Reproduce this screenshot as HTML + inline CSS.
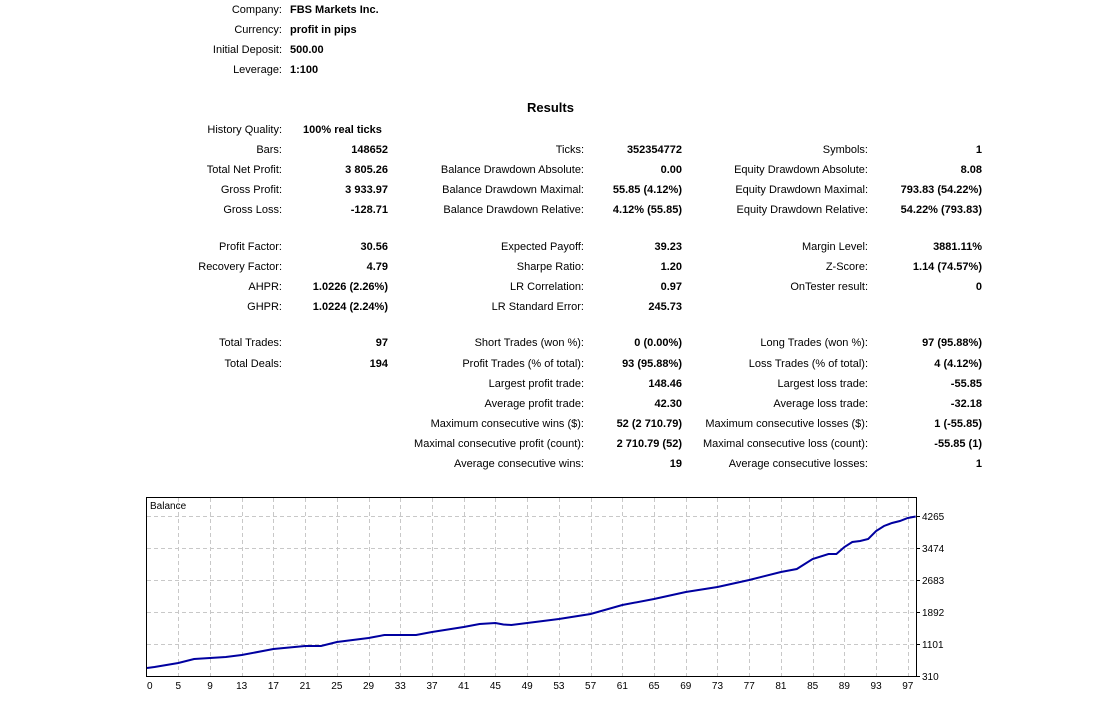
<!DOCTYPE html>
<html><head><meta charset="utf-8"><style>
body{margin:0;width:1098px;height:718px;background:#fff;position:relative;overflow:hidden;font-family:"Liberation Sans","DejaVu Sans",sans-serif;font-size:11px;color:#000}
.l,.v{position:absolute;white-space:nowrap;line-height:13px}
.v{font-weight:bold}
</style></head><body>
<div id="c"></div>
<svg style="position:absolute;left:0;top:0" width="1098" height="718">
<g stroke="#c8c8c8" stroke-dasharray="4,3" stroke-width="1">
<line x1="147" x2="916" y1="516.5" y2="516.5"/><line x1="147" x2="916" y1="548.5" y2="548.5"/><line x1="147" x2="916" y1="580.5" y2="580.5"/><line x1="147" x2="916" y1="612.5" y2="612.5"/><line x1="147" x2="916" y1="644.5" y2="644.5"/>
<g id="vg"></g>
</g>
<rect x="146.5" y="497.5" width="770" height="179" fill="none" stroke="#000"/>
<g stroke="#000"><line x1="917" x2="920" y1="516.5" y2="516.5"/><line x1="917" x2="920" y1="548.5" y2="548.5"/><line x1="917" x2="920" y1="580.5" y2="580.5"/><line x1="917" x2="920" y1="612.5" y2="612.5"/><line x1="917" x2="920" y1="644.5" y2="644.5"/><line x1="917" x2="920" y1="676.5" y2="676.5"/></g>
<g font-family="Liberation Sans, sans-serif" font-size="10" fill="#000">
<text x="150" y="509">Balance</text>
<text x="922" y="520">4265</text><text x="922" y="552">3474</text><text x="922" y="584">2683</text><text x="922" y="616">1892</text><text x="922" y="648">1101</text><text x="922" y="680">310</text>
<g id="xl"></g>
</g>
<polyline id="pl" fill="none" stroke="#0000a0" stroke-width="2" points=""/>
</svg>
<script>
var ns="http://www.w3.org/2000/svg";
function X(i){return 138.6+7.93*i;}
var vg=document.getElementById('vg'),xl=document.getElementById('xl');
for(var i=5;i<=97;i+=4){var l=document.createElementNS(ns,'line');l.setAttribute('x1',Math.round(X(i))+.5);l.setAttribute('x2',Math.round(X(i))+.5);l.setAttribute('y1',498);l.setAttribute('y2',676);vg.appendChild(l);}
var labs=[0];for(var i=5;i<=97;i+=4)labs.push(i);
labs.forEach(function(i){var t=document.createElementNS(ns,'text');t.setAttribute('x',i==0?147:X(i));t.setAttribute('y',689);t.setAttribute('text-anchor',i==0?'start':'middle');t.textContent=i;xl.appendChild(t);});
var pts=[[0,668],[2,667],[5,663],[7,659],[9,658],[11,657],[13,655],[17,649],[21,646],[23,646],[25,642],[29,638],[31,635],[33,635],[35,635],[37,632],[41,627],[43,624],[45,623],[46,624.5],[47,625],[49,623],[53,619],[57,614],[61,605],[65,599],[69,592],[73,587],[77,580],[81,572],[83,569],[85,559],[87,554],[88,554],[89,547],[90,542],[91,541],[92,539],[93,531],[94,526],[95,523],[96,521],[97,518],[98,516.5]];
var s=[];
pts.forEach(function(p){s.push(X(p[0]).toFixed(1)+','+p[1]);});
s[0]='147,668';
document.getElementById('pl').setAttribute('points',s.join(' '));
var c=document.getElementById('c');
function L(r,y,t){c.insertAdjacentHTML('beforeend','<div class="l" style="right:'+(1098-r)+'px;top:'+(y-5)+'px">'+t+'</div>');}
function V(r,y,t){c.insertAdjacentHTML('beforeend','<div class="v" style="right:'+(1098-r)+'px;top:'+(y-5)+'px">'+t+'</div>');}
function VL(x,y,t){c.insertAdjacentHTML('beforeend','<div class="v" style="left:'+x+'px;top:'+(y-5)+'px">'+t+'</div>');}
L(282,9,'Company:');VL(290,9,'FBS Markets Inc.');
L(282,29,'Currency:');VL(290,29,'profit in pips');
L(282,49,'Initial Deposit:');VL(290,49,'500.00');
L(282,69,'Leverage:');VL(290,69,'1:100');
c.insertAdjacentHTML('beforeend','<div class="v" style="left:527px;top:100px;font-size:13px;line-height:16px">Results</div>');
L(282,129,'History Quality:');VL(303,129,'100% real ticks');
var rows=[
[149,'Bars:','148652','Ticks:','352354772','Symbols:','1'],
[169,'Total Net Profit:','3 805.26','Balance Drawdown Absolute:','0.00','Equity Drawdown Absolute:','8.08'],
[189,'Gross Profit:','3 933.97','Balance Drawdown Maximal:','55.85 (4.12%)','Equity Drawdown Maximal:','793.83 (54.22%)'],
[209,'Gross Loss:','-128.71','Balance Drawdown Relative:','4.12% (55.85)','Equity Drawdown Relative:','54.22% (793.83)'],
[246,'Profit Factor:','30.56','Expected Payoff:','39.23','Margin Level:','3881.11%'],
[266,'Recovery Factor:','4.79','Sharpe Ratio:','1.20','Z-Score:','1.14 (74.57%)'],
[286,'AHPR:','1.0226 (2.26%)','LR Correlation:','0.97','OnTester result:','0'],
[306,'GHPR:','1.0224 (2.24%)','LR Standard Error:','245.73','',''],
[342,'Total Trades:','97','Short Trades (won %):','0 (0.00%)','Long Trades (won %):','97 (95.88%)'],
[363,'Total Deals:','194','Profit Trades (% of total):','93 (95.88%)','Loss Trades (% of total):','4 (4.12%)'],
[383,'','','Largest profit trade:','148.46','Largest loss trade:','-55.85'],
[403,'','','Average profit trade:','42.30','Average loss trade:','-32.18'],
[423,'','','Maximum consecutive wins ($):','52 (2 710.79)','Maximum consecutive losses ($):','1 (-55.85)'],
[443,'','','Maximal consecutive profit (count):','2 710.79 (52)','Maximal consecutive loss (count):','-55.85 (1)'],
[463,'','','Average consecutive wins:','19','Average consecutive losses:','1']];
rows.forEach(function(r){var y=r[0];
if(r[1]){L(282,y,r[1]);V(388,y,r[2]);}
L(584,y,r[3]);V(682,y,r[4]);
if(r[5]){L(868,y,r[5]);V(982,y,r[6]);}});
</script>
</body></html>
